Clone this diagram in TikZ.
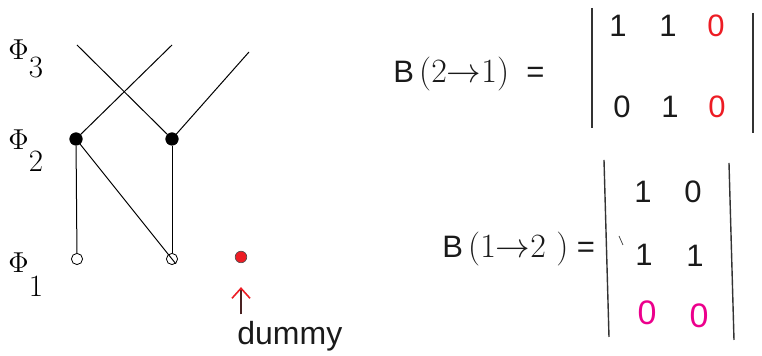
\documentclass[tikz,border=0pt]{standalone}
\usepackage{fontspec}
\setsansfont{Liberation Sans}
\usepackage{tikz}
\usetikzlibrary{arrows.meta,positioning,calc}
\definecolor{cInk}{HTML}{1A1A1A}
\definecolor{cRed}{HTML}{ED1C24}
\definecolor{cMag}{HTML}{EC008C}
\definecolor{cShaft}{HTML}{4A2222}
\tikzset{
  full/.style={circle,fill=black,draw=black,inner sep=0pt,minimum size=6.2pt},
  hollow/.style={circle,fill=white,draw=black,line width=0.4pt,inner sep=0pt,minimum size=5.6pt},
  dum/.style={circle,fill=cRed,draw=black!70,line width=0.3pt,inner sep=0pt,minimum size=5.8pt},
  edge/.style={line width=0.5pt,color=black},
  bar/.style={line width=0.7pt,color=black!80},
  ent/.style={font=\fontsize{15.5}{18}\selectfont\sffamily,inner sep=0pt,text=cInk},
  phi/.style={font=\fontsize{15.5}{18}\selectfont,inner sep=0pt,anchor=base west},
  eqn/.style={font=\fontsize{15.5}{18}\selectfont\sffamily,inner sep=0pt,anchor=base west,text=cInk},
  ptr/.style={-{Straight Barb[length=5pt,width=9pt,color=cRed,line width=0.8pt]},line width=0.9pt,color=cShaft},
}
\newcommand{\serifpart}[1]{{\rmfamily\fontsize{17}{20}\selectfont #1}}

\begin{document}
\begin{tikzpicture}[x=0.5pt,y=-0.5pt]
  \useasboundingbox (0,0) rectangle (762,356);
  % levels
  \node[phi] (p3) at (8,60)  {$\Phi$\raisebox{-9pt}{3}};
  \node[phi] (p2) at (8,150) {$\Phi$\raisebox{-11pt}{2}};
  \node[phi] (p1) at (8,273) {$\Phi$\raisebox{-12pt}{1}};
  % graph
  \coordinate (t1) at (77,45);
  \coordinate (t2) at (172,45);
  \coordinate (t3) at (249,52);
  \node[full]   (a1) at (76,139)  {};
  \node[full]   (a2) at (172,139) {};
  \node[hollow] (b1) at (77,259)  {};
  \node[hollow] (b2) at (172,259) {};
  \node[dum]    (dm) at (241,257) {};
  \draw[edge] (t1) -- (a2);
  \draw[edge] (t2) -- (a1);
  \draw[edge] (t3) -- (a2);
  \draw[edge] (a1) -- (b1);
  \draw[edge] (a2) -- (b2);
  \draw[edge,shorten >=-3pt] (a1.center) -- (b2.center);
  \node[eqn,font=\fontsize{16}{19}\selectfont\sffamily] (dummy) at (237,345) {dummy};
  \draw[ptr,shorten <=3.5pt,shorten >=12pt] (dummy.north -| dm) -- (dm);
  % B(2->1)
  \node[eqn] (e1) at (393,83) {B\,\serifpart{(2$\rightarrow$1)}\ \ =};
  \draw[bar] (592,8) -- (592,128);
  \draw[bar] (753,13) -- (753,133);
  \node[ent] (m11) at (618,26) {1};
  \node[ent] (m12) at (668,26) {1};
  \node[ent,text=cRed] (m13) at (716,26) {0};
  \node[ent] (m21) at (622,107) {0};
  \node[ent] (m22) at (670,107) {1};
  \node[ent,text=cRed] (m23) at (717,107) {0};
  % B(1->2)
  \node[eqn] (e2) at (442,258) {B\,\serifpart{(1$\rightarrow$2\ )}\ =};
  \draw[bar] (604,160) -- (609,337);
  \draw[bar] (729,163) -- (734,340);
  \draw[line width=0.4pt,black!70] (619,236) -- (623,245);
  \node[ent] (n11) at (643,192) {1};
  \node[ent] (n12) at (693,192) {0};
  \node[ent] (n21) at (644,255) {1};
  \node[ent] (n22) at (695,256) {1};
  \node[ent,text=cMag,font=\fontsize{17}{20}\selectfont\sffamily] (n31) at (647,313) {0};
  \node[ent,text=cMag,font=\fontsize{17}{20}\selectfont\sffamily] (n32) at (699,316) {0};
\end{tikzpicture}
\end{document}
